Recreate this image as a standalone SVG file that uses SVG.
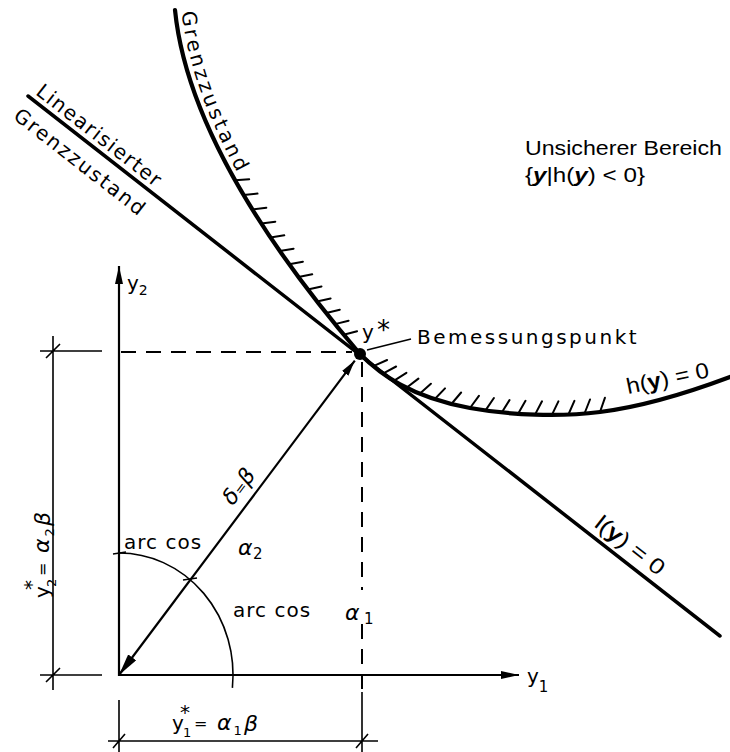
<svg xmlns="http://www.w3.org/2000/svg" width="730" height="752" viewBox="0 0 730 752">
<style>
.s{stroke:#000;fill:none}
.curve{stroke-width:4.2;stroke-linecap:round}
.lin{stroke-width:3.5;stroke-linecap:round}
.axis{stroke-width:2.2}
.thin{stroke-width:1.6}
.dash{stroke-width:2;stroke-dasharray:15 10}
.hatch{stroke-width:2;stroke-linecap:round}
.iso{font-family:"DejaVu Sans",sans-serif;font-size:20px;fill:#000}
.gr{font-family:"DejaVu Sans",sans-serif;font-style:oblique;fill:#000}
.ob{font-style:oblique}
.hel{font-family:"Liberation Sans",Arial,sans-serif;fill:#000}
</style>
<defs>
<marker id="axArrow" viewBox="0 0 18 8" refX="18" refY="4" markerWidth="18" markerHeight="8" markerUnits="userSpaceOnUse" orient="auto"><path d="M0,0 L18,4 L0,8 z" fill="#000"/></marker>
<marker id="bigArrow" viewBox="0 0 22 10" refX="22" refY="5" markerWidth="22" markerHeight="10" markerUnits="userSpaceOnUse" orient="auto-start-reverse"><path d="M0,0 L22,5 L0,10 z" fill="#000"/></marker>
<marker id="smArrow" viewBox="0 0 16 8" refX="16" refY="4" markerWidth="16" markerHeight="8" markerUnits="userSpaceOnUse" orient="auto"><path d="M0,0 L16,4 L0,8 z" fill="#000"/></marker>
<path id="gzp" d="M181.5,10 C194.5,140 301.5,278 366.5,354"/>
</defs>

<g id="axes">
<line class="s axis" x1="119" y1="676" x2="119" y2="266" marker-end="url(#axArrow)"/>
<line class="s axis" x1="118" y1="675" x2="519" y2="675" marker-end="url(#axArrow)"/>
<text class="iso" x="127" y="290">y<tspan font-size="14" dy="5">2</tspan></text>
<text class="iso" x="527" y="683">y<tspan font-size="15" dy="9">1</tspan></text>
</g>

<g id="limit-state">
<path class="s curve" d="M175,10 C188,140 295,278 360,354 C380,374 410,397 470,408 C510,415.3 560,417 600,412 C640,407 690,392 730,377"/>
<path class="s hatch" d="M235.2,180.3 L249.2,179.2 M243.6,195 L257.5,193.6 M252.4,209.4 L266.3,207.7 M261.4,223.6 L275.3,221.7 M270.5,237.5 L284.3,235.3 M279.8,251.1 L293.6,248.7 M289.2,264.3 L302.9,261.7 M298.5,277.1 L312.2,274.3 M307.8,289.5 L321.5,286.5 M317,301.5 L330.6,298.4 M326.2,313 L339.8,309.7 M335,324.1 L348.6,320.7 M343.6,334.7 L357.1,331.2 M373.4,366.2 L387.1,360 M382.9,373.6 L396.1,366.5 M393.8,380.9 L406.4,372.8 M406.5,387.8 L418.4,378.6 M419.7,393.7 L430.9,383.7 M434.6,399.2 L445,388.4 M451.4,404 L461.1,392.5 M470,408 L478.9,395.9 M485.5,410.4 L493.9,398 M501.6,412.8 L509.5,400.1 M518.1,413.8 L525.5,400.8 M535,414.6 L542,401.3 M551.9,414.9 L558.4,401.4 M568.4,414.5 L574.4,400.8 M584.5,413.5 L590,399.5 M600,412 L604.9,397.8"/>
<text class="iso" letter-spacing="3"><textPath href="#gzp" startOffset="2">Grenzzustand</textPath></text>
<text class="hel" font-size="22" transform="translate(628,394) rotate(-11.7)" textLength="84" lengthAdjust="spacingAndGlyphs">h(<tspan font-weight="bold">y</tspan>) = 0</text>
</g>

<g id="linearized">
<line class="s lin" x1="28" y1="96" x2="720" y2="636"/>
<text class="iso" letter-spacing="1.5" transform="translate(34.8,93.7) rotate(37.96)">Linearisierter</text>
<text class="iso" letter-spacing="2" transform="translate(12.2,117.9) rotate(37.96)">Grenzzustand</text>
<text class="hel" font-size="22" transform="translate(593.3,525.9) rotate(37.96)" textLength="82" lengthAdjust="spacingAndGlyphs">l(<tspan font-weight="bold">y</tspan>) = 0</text>
</g>

<g id="design-point">
<circle cx="360" cy="354" r="6" fill="#000"/>
<line class="s thin" x1="367" y1="350" x2="411" y2="339"/>
<text class="iso" x="362" y="339">y<tspan x="377" font-size="26">*</tspan></text>
<text class="iso" x="417" y="344" letter-spacing="2.5">Bemessungspunkt</text>
</g>

<g id="unsafe-label">
<text class="hel" x="525" y="155" font-size="19.5" textLength="197" lengthAdjust="spacingAndGlyphs">Unsicherer Bereich</text>
<text class="hel" x="525" y="182" font-size="19.5" textLength="120" lengthAdjust="spacingAndGlyphs">{<tspan font-weight="bold" font-style="italic">y</tspan>|h(<tspan font-weight="bold" font-style="italic">y</tspan>) &lt; 0}</text>
</g>

<g id="connectors">
<line class="s dash" x1="121" y1="352" x2="352" y2="352"/>
<line class="s dash" x1="362" y1="362" x2="362" y2="590"/>
<line class="s dash" x1="362" y1="624" x2="362" y2="690"/>
<line class="s axis" x1="119" y1="675" x2="354.8" y2="360.6" stroke-width="2" marker-start="url(#bigArrow)" marker-end="url(#smArrow)"/>
<path class="s thin" stroke-width="1.8" d="M119,553 A114,122 0 0 1 232.4,687.8"/>
<path class="s thin" d="M113,554 L126,552 M183,580 L197,578"/>
</g>

<g id="dimensions">
<path class="s thin" d="M53,336 V690 M40,351 H102 M40,675 H102 M46,358 L60,344 M46,682 L60,668"/>
<path class="s thin" d="M108,741 H378 M119,700 V752 M362,692 V752 M113,748 L125,734 M356,748 L368,734"/>
</g>

<g id="labels">
<text class="gr" font-size="22" transform="translate(232.8,506.6) rotate(-53.13)">δ<tspan font-size="14" font-style="normal">=</tspan>β</text>
<text class="iso" x="124" y="549" font-size="21" letter-spacing="1">arc cos<tspan x="238" y="555" font-size="22" class="ob" letter-spacing="0">α</tspan><tspan x="253" y="559" font-size="15" letter-spacing="0">2</tspan></text>
<text class="iso" x="233" y="617" font-size="21" letter-spacing="1">arc cos<tspan x="345" y="620" font-size="22" class="ob" letter-spacing="0">α</tspan><tspan x="364" y="624" font-size="15" letter-spacing="0">1</tspan></text>
<text class="iso" transform="translate(172,730)">y<tspan x="8" y="-11">*</tspan><tspan x="11" y="7" font-size="13">1</tspan><tspan x="22" y="-1" font-size="16">=</tspan><tspan x="45" y="0" font-size="22" class="ob">α</tspan><tspan x="61.5" y="5" font-size="13">1</tspan><tspan x="72" y="1" font-size="22" class="ob">β</tspan></text>
<text class="iso" transform="translate(49,598) rotate(-90)">y<tspan x="8" y="-11">*</tspan><tspan x="11" y="7" font-size="13">2</tspan><tspan x="22" y="-1" font-size="16">=</tspan><tspan x="45" y="0" font-size="22" class="ob">α</tspan><tspan x="61.5" y="5" font-size="13">2</tspan><tspan x="72" y="1" font-size="22" class="ob">β</tspan></text>
</g>
</svg>
